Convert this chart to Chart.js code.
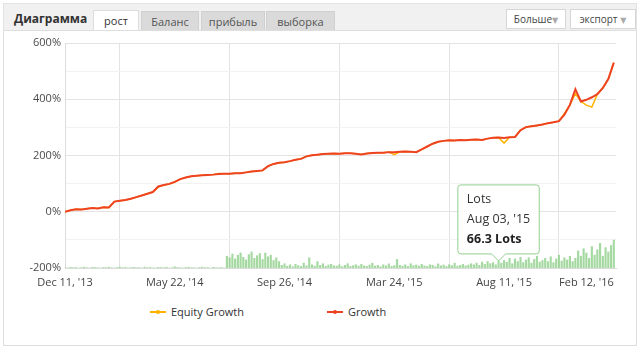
<!DOCTYPE html>
<html>
<head>
<meta charset="utf-8">
<script src="https://cdn.jsdelivr.net/npm/chart.js@4/dist/chart.umd.min.js"></script>
<style>
  body { margin: 0; width: 640px; height: 353px; background: #fff; position: relative; overflow: hidden;
         font-family: "Open Sans", "DejaVu Sans", sans-serif; color: #333; }
  #head { position: absolute; left: 3px; top: 3px; width: 632px; height: 27px; background: #f1f1f1;
          border: 1px solid #e3e3e3; border-bottom: none; }
  #title { position: absolute; left: 10px; top: 6px; font-size: 12px; font-weight: bold; color: #333; }
  .tab { position: absolute; top: 7px; height: 20px; line-height: 20px; font-size: 11px; color: #555;
         background: #dadada; text-align: center; border: 1px solid #d0d0d0; border-bottom: none; }
  .tab.on { background: #fff; top: 6px; height: 22px; border-color: #ddd; color: #333; }
  .btn { position: absolute; top: 5px; height: 18px; line-height: 18px; font-size: 10px; color: #444;
         background: #fff; border: 1px solid #d6d6d6; text-align: center; }
  .btn span { color: #aaa; font-size: 8px; }
  #panel { position: absolute; left: 3px; top: 30px; width: 632px; height: 314px; background: #fff;
           border: 1px solid #dedede; }
  #chart { position: absolute; left: 0; top: 31px; }
  #legend { position: absolute; left: 150px; top: 304px; display: flex; gap: 83px; font-size: 11px; color: #333; }
  #legend .item { display: flex; align-items: center; }
  #legend .mark { position: relative; width: 16px; height: 2px; margin-right: 5px; }
  #legend .mark i { position: absolute; left: 6px; top: -1px; width: 4px; height: 4px; border-radius: 2px; }
</style>
</head>
<body>
<div id="head">
  <div id="title">Диаграмма</div>
  <div class="tab on" style="left:89px;width:44px">рост</div>
  <div class="tab" style="left:137px;width:56px">Баланс</div>
  <div class="tab" style="left:197px;width:62px">прибыль</div>
  <div class="tab" style="left:262px;width:67px">выборка</div>
  <div class="btn" style="left:502px;width:58px">Больше<span>▼</span></div>
  <div class="btn" style="left:566px;width:64px">экспорт <span>▼</span></div>
</div>
<div id="panel"></div>
<canvas id="chart" width="640" height="270"></canvas>
<div id="legend"></div>

<script>
// x axis: index positions, a label every xTickStep points
const xTickLabels = ["Dec 11, '13", "May 22, '14", "Sep 26, '14", "Mar 24, '15", "Aug 11, '15", "Feb 12, '16"];
const xTickStep = 20;

// growth in %, one value per x index
const growth = [
  0, 5, 9, 8, 11, 13, 12, 16, 15, 36,
  39, 42, 46, 52, 58, 64, 70, 90, 95, 99,
  106, 116, 122, 126, 128, 130, 131, 132, 134, 135,
  135, 137, 137, 140, 143, 145, 147, 162, 170, 174,
  176, 180, 185, 188, 197, 201, 203, 205, 206, 207,
  206, 208, 208, 206, 204, 207, 209, 210, 210, 212,
  212, 213, 214, 213, 212, 222, 232, 242, 249, 252,
  254, 253, 255, 254, 256, 257, 255, 260, 263, 264,
  262, 265, 266, 290, 301, 304, 307, 310, 315, 318,
  322, 345, 380, 436, 392, 398, 407, 418, 440, 472,
  530
];

const equity = [
  0, 5, 9, 8, 11, 13, 12, 16, 15, 36,
  39, 42, 46, 52, 58, 64, 70, 88, 95, 99,
  106, 116, 122, 126, 128, 130, 131, 132, 136, 135,
  135, 137, 137, 140, 143, 145, 147, 162, 170, 174,
  176, 180, 185, 188, 197, 201, 203, 205, 206, 207,
  206, 208, 208, 206, 204, 207, 209, 210, 210, 212,
  203, 213, 214, 213, 212, 222, 232, 242, 249, 252,
  254, 253, 255, 254, 256, 257, 255, 260, 263, 264,
  244, 265, 266, 290, 301, 304, 307, 310, 315, 318,
  322, 350, 380, 420, 392, 379, 372, 418, 440, 472,
  530
];

// lots traded, two bars per x index
const lots = [
  4, 0, 7, 3, 5, 0, 3, 8, 2, 0,
  6, 4, 2, 0, 5, 3, 7, 2, 0, 4,
  9, 3, 5, 0, 3, 6, 2, 4, 0, 8,
  3, 5, 2, 0, 6, 4, 2, 7, 0, 3,
  11, 5, 3, 0, 4, 7, 2, 3, 0, 5,
  8, 3, 4, 0, 6, 3, 2, 5, 0,
  110, 95, 130, 85, 120, 140, 100, 75, 125, 150,
  90, 115, 135, 80, 140, 105, 120, 70, 95, 60,
  25, 40, 18, 30, 12, 35, 22, 15, 45, 20,
  95, 30, 18, 60, 25, 40, 15, 28, 35, 20,
  18, 30, 12, 25, 40, 15, 22, 30, 18, 35,
  20, 15, 28, 45, 18, 25, 12, 30, 20, 38,
  15, 22, 80, 25, 18, 30, 15, 40, 22, 28,
  18, 35, 20, 15, 30, 25, 12, 38, 20, 28,
  15, 30, 22, 45, 18, 25, 35, 20, 28, 40,
  30, 45, 25, 55, 35, 60, 40, 50, 30,
  66.3,
  45, 70, 55, 90, 40, 85, 60, 100, 50, 75,
  95, 45, 80, 110, 55, 70, 90, 60, 105, 50,
  85, 120, 65, 95, 75, 110, 60,
  90, 160, 110, 180, 140, 90, 200, 120, 170, 230,
  110, 190, 150, 210, 260
];

const tipDate = "Aug 03, '15";
const tipLots = 66.3;

Chart.defaults.font.family = '"Open Sans", "DejaVu Sans", sans-serif';
Chart.defaults.font.size = 11;

const ctx = document.getElementById("chart").getContext("2d");
const chart = new Chart(ctx, {
  type: "line",
  data: {
    datasets: [
      {
        label: "Growth",
        data: growth.map((v, i) => ({ x: i, y: v })),
        borderColor: "#ee4322", backgroundColor: "#ee4322",
        borderWidth: 2, pointRadius: 0, order: 1
      },
      {
        label: "Equity Growth",
        data: equity.map((v, i) => ({ x: i, y: v })),
        borderColor: "#ffb300", backgroundColor: "#ffb300",
        borderWidth: 1.5, pointRadius: 0, order: 2
      },
      {
        type: "bar",
        label: "Lots",
        data: lots.map((v, i) => ({ x: i / 2, y: v })),
        backgroundColor: "rgba(135,204,130,0.75)",
        barThickness: 1.5,
        yAxisID: "lots",
        order: 3
      }
    ]
  },
  options: {
    responsive: false,
    animation: false,
    events: [],
    layout: { padding: { left: 0, right: 24, top: 12, bottom: 0 } },
    scales: {
      x: {
        type: "linear", min: 0, max: 100.4, offset: false,
        // a blank tick first so that "inner" only pushes the last label inside
        afterBuildTicks: s => {
          s.ticks = [{ value: 0 }].concat(xTickLabels.map((_, i) => ({ value: i * xTickStep })));
        },
        afterFit: s => { s.height = 33; s.paddingLeft = 0; s.paddingRight = 0; },
        ticks: {
          autoSkip: false, maxRotation: 0, padding: 8, color: "#444", align: "inner",
          callback: (v, i) => (i === 0 ? "" : xTickLabels[i - 1])
        },
        grid: { color: "#e3e3e3", drawTicks: false },
        border: { color: "#dcdcdc" }
      },
      y: {
        min: -200, max: 600,
        afterFit: s => { s.width = 65; },
        ticks: {
          stepSize: 100, padding: 4, color: "#4a4a4a",
          callback: v => (v % 200 === 0 ? v + "%" : "")
        },
        grid: {
          drawTicks: false,
          color: c => (c.tick && c.tick.value % 200 === 0 ? "#e3e3e3" : "#f2f2f2")
        },
        border: { color: "#dcdcdc" }
      },
      lots: { display: false, min: 0, max: 2100 }
    },
    plugins: {
      legend: { display: false },
      tooltip: {
        filter: item => item.datasetIndex === 2,
        yAlign: "bottom", xAlign: "center",
        caretSize: 7, caretPadding: 0,
        padding: { x: 9, y: 7 },
        backgroundColor: "rgba(255,255,255,0.9)",
        borderColor: "#93cf8f", borderWidth: 1, cornerRadius: 3,
        titleColor: "#333", bodyColor: "#222",
        titleFont: { size: 12.5, weight: "normal" },
        bodyFont: { size: 12.5, weight: "bold" },
        titleSpacing: 5, titleMarginBottom: 5,
        displayColors: false,
        callbacks: {
          title: () => ["Lots", tipDate],
          label: c => c.parsed.y + " Lots"
        }
      }
    }
  }
});

// show the Lots tooltip like in the screenshot
chart.tooltip.setActiveElements([{ datasetIndex: 2, index: lots.indexOf(tipLots) }], { x: 0, y: 0 });
chart.update();

// legend (Equity Growth first, like the original)
const legend = document.getElementById("legend");
[chart.data.datasets[1], chart.data.datasets[0]].forEach(ds => {
  const item = document.createElement("div");
  item.className = "item";
  item.innerHTML = `<span class="mark" style="background:${ds.borderColor}"><i style="background:${ds.borderColor}"></i></span><span>${ds.label}</span>`;
  legend.appendChild(item);
});
</script>
</body>
</html>
